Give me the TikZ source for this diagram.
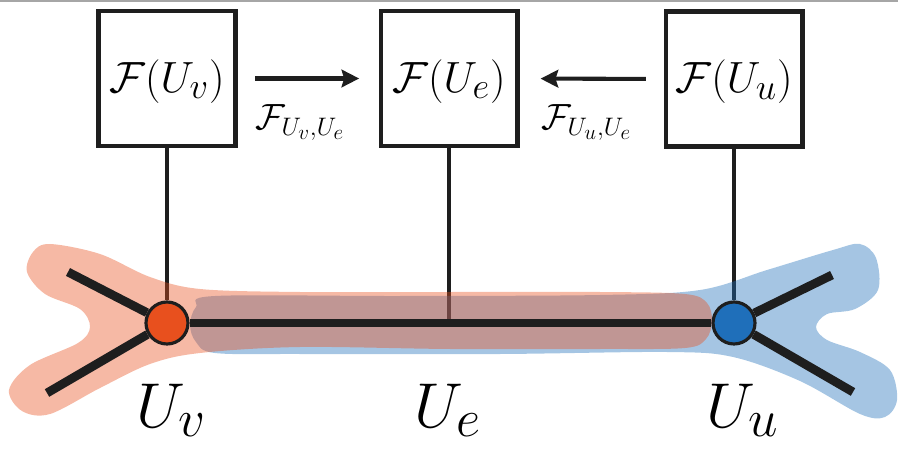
\documentclass[tikz,border=0pt]{standalone}
\usepackage{amsmath, amssymb}
\usepackage{xcolor}
\usetikzlibrary{arrows.meta, positioning, calc}
\definecolor{vorange}{RGB}{232,80,30}
\definecolor{ublue}{RGB}{31,111,186}
\definecolor{ink}{RGB}{30,30,30}
\pgfdeclarelayer{back}
\pgfsetlayers{back,main}
\newcommand{\setname}[1]{\scalebox{1.45}{$#1$}}

\begin{document}
\begin{tikzpicture}[
    x=0.02cm, y=-0.02cm,
    sheaf/.style={draw=ink, line width=2.3pt, minimum width=2.74cm, minimum height=2.7cm, inner sep=0pt,
        font=\Huge, text height=20.5pt, text depth=5pt},
    vertex/.style={circle, draw=ink, line width=1.8pt, minimum size=0.84cm, inner sep=0pt},
    arm/.style={ink, line width=5pt},
    link/.style={ink, line width=1.9pt},
    arrow/.style={ink, line width=2.3pt, -{Stealth[length=10pt, width=10pt, inset=1.5pt]}},
    maplabel/.style={font=\huge, anchor=base west, inner sep=0pt},
    setlabel/.style={font=\Huge, anchor=base}
]
\useasboundingbox (0,0) rectangle (898,452);

% top rule
\draw[gray!70, line width=0.6pt] (0,1) -- (898,1);

% Sections
\node[sheaf] (Fv) at (167,78.5) {$\mathcal{F}(U_v)$};
\node[sheaf] (Fe) at (449,78.5) {$\mathcal{F}(U_e)$};
\node[sheaf] (Fu) at (734,79) {$\mathcal{F}(U_u)$};

% Restriction maps
\draw[arrow, shorten <=10pt, shorten >=11pt] (Fv) -- (Fe);
\draw[arrow, shorten <=10pt, shorten >=12pt] (Fu) -- (Fe);
\node[maplabel] (rv) at (255,130) {$\mathcal{F}_{U_v,U_e}$};
\node[maplabel] (ru) at (541,130) {$\mathcal{F}_{U_u,U_e}$};

% Graph
\node[vertex, fill=vorange] (v) at (167,323) {};
\node[vertex, fill=ublue] (u) at (734,323) {};
\coordinate (e) at (449,323);
\coordinate (v1) at (68,272);
\coordinate (v2) at (47,393);
\coordinate (u1) at (832,275);
\coordinate (u2) at (853,392);

\draw[arm] (v) -- (u);
\draw[arm] (v) -- (v1);
\draw[arm] (v) -- (v2);
\draw[arm] (u) -- (u1);
\draw[arm] (u) -- (u2);

% Open sets
\begin{pgfonlayer}{back}
\draw[link] (Fv) -- (v);
\draw[link] (Fe) -- (e);
\draw[link] (Fu) -- (u);
\fill[ublue, fill opacity=0.4] plot[smooth cycle, tension=0.55] coordinates {
    (215,296) (400,296) (600,295) (700,290) (767,270) (833,250) (860,244) (876,258)
    (878,290) (855,309) (827,314) (816,327) (827,340) (860,352) (890,370) (897,400)
    (885,417) (860,414) (800,381) (733,357) (667,352) (500,354) (300,354) (215,353)
    (196,342) (190,325) (196,307)};
\fill[vorange, fill opacity=0.4] plot[smooth cycle, tension=0.55] coordinates {
    (50,244) (100,254) (150,277) (200,289) (300,292) (450,292) (600,292) (685,294)
    (707,303) (712,321) (706,339) (685,348) (600,349) (450,349) (300,347) (200,353)
    (150,364) (100,388) (50,414) (22,411) (9,390) (30,365) (78,343) (90,327)
    (80,309) (45,294) (27,272) (33,252)};
\end{pgfonlayer}

% Labels
\node[setlabel] (Lv) at (172,427) {\setname{U_v}};
\node[setlabel] (Le) at (448,427) {\setname{U_e}};
\node[setlabel] (Lu) at (743,427) {\setname{U_u}};

\end{tikzpicture}
\end{document}
